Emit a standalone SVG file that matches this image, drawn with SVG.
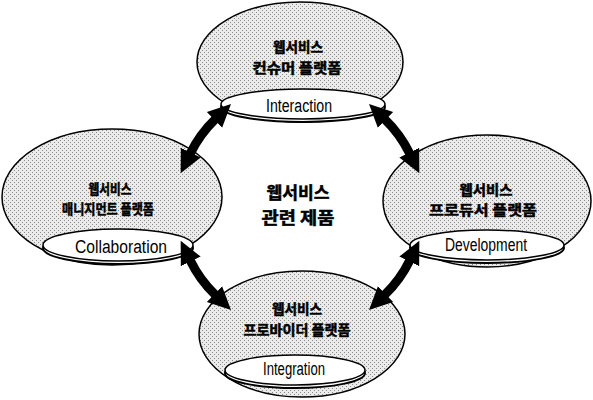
<svg xmlns="http://www.w3.org/2000/svg" width="593" height="400" viewBox="0 0 593 400">
<defs>
<pattern id="dots" width="4" height="4" patternUnits="userSpaceOnUse">
<rect width="4" height="4" fill="#ebebeb"/>
<rect x="0" y="0" width="1" height="1" fill="#8a8a8a"/>
<rect x="2" y="2" width="1" height="1" fill="#8a8a8a"/>
</pattern>
<marker id="head" viewBox="0 0 24 24" markerUnits="userSpaceOnUse" markerWidth="24" markerHeight="24" refX="1" refY="12" orient="auto-start-reverse">
<path d="M0,1 L23,12 L0,23 z" fill="#000"/>
</marker>
<style>
.outer{fill:url(#dots);stroke:#000;stroke-width:1.5}
.inner{fill:#fff;stroke:#000;stroke-width:1.5}
.rim{fill:#fff;stroke:#000;stroke-width:2}
.ko{font-family:"Noto Sans CJK KR","Noto Sans",sans-serif;font-weight:bold;font-size:14px;text-anchor:middle;fill:#000;stroke:#000;stroke-width:0.5}
.big{font-size:17px}
.en{font-family:"Liberation Sans",Arial,sans-serif;font-size:18px;text-anchor:middle;fill:#000}
.shaft{fill:none;stroke:#000;stroke-width:9}
.edge{fill:none;stroke:#000;stroke-width:1.2}
</style>
</defs>
<rect width="593" height="400" fill="#fff"/>

<g id="node-consumer">
<ellipse class="outer" cx="300" cy="62" rx="103" ry="60"/>
<ellipse class="rim" cx="303" cy="107" rx="82" ry="15"/>
<ellipse class="inner" cx="303" cy="104" rx="82" ry="15"/>
<text class="ko" x="298" y="52" textLength="50" lengthAdjust="spacingAndGlyphs">웹서비스</text>
<text class="ko" x="297" y="73" textLength="89" lengthAdjust="spacingAndGlyphs">컨슈머 플랫폼</text>
<text class="en" x="299" y="112" textLength="66" lengthAdjust="spacingAndGlyphs">Interaction</text>
</g>

<g id="node-management">
<ellipse class="outer" cx="112" cy="197" rx="110" ry="68"/>
<ellipse class="rim" cx="118" cy="248" rx="75" ry="16"/>
<ellipse class="inner" cx="118" cy="245" rx="75" ry="16"/>
<text class="ko" x="110" y="194" textLength="43" lengthAdjust="spacingAndGlyphs">웹서비스</text>
<text class="ko" x="108" y="214" textLength="92" lengthAdjust="spacingAndGlyphs">매니지먼트 플랫폼</text>
<text class="en" x="121" y="253" textLength="92" lengthAdjust="spacingAndGlyphs">Collaboration</text>
</g>

<g id="node-producer">
<ellipse class="outer" cx="487" cy="201" rx="104" ry="66"/>
<ellipse class="rim" cx="487" cy="248" rx="77" ry="15"/>
<ellipse class="inner" cx="487" cy="245" rx="77" ry="15"/>
<text class="ko" x="486" y="195" textLength="53" lengthAdjust="spacingAndGlyphs">웹서비스</text>
<text class="ko" x="483" y="215" textLength="108" lengthAdjust="spacingAndGlyphs">프로듀서 플랫폼</text>
<text class="en" x="486" y="251" textLength="82" lengthAdjust="spacingAndGlyphs">Development</text>
</g>

<g id="node-provider">
<ellipse class="outer" cx="302" cy="334" rx="103" ry="63"/>
<ellipse class="rim" cx="295" cy="373" rx="70" ry="15"/>
<ellipse class="inner" cx="295" cy="370" rx="70" ry="15"/>
<text class="ko" x="297" y="314" textLength="50" lengthAdjust="spacingAndGlyphs">웹서비스</text>
<text class="ko" x="297" y="335" textLength="107" lengthAdjust="spacingAndGlyphs">프로바이더 플랫폼</text>
<text class="en" x="294" y="375" textLength="62" lengthAdjust="spacingAndGlyphs">Integration</text>
</g>

<g id="center-label">
<text class="ko big" x="298" y="199" textLength="63" lengthAdjust="spacingAndGlyphs">웹서비스</text>
<text class="ko big" x="298" y="224" textLength="73" lengthAdjust="spacingAndGlyphs">관련 제품</text>
</g>

<g id="connectors">
<path class="edge" d="M188.6,162.0 A130,130 0 0 1 208.0,128.0"/>
<path class="shaft" marker-start="url(#head)" marker-end="url(#head)" d="M190.3,153.5 A122,122 0 0 1 215.2,119.2"/>
<path class="edge" d="M392.0,128.0 A130,130 0 0 1 411.4,162.0"/>
<path class="shaft" marker-start="url(#head)" marker-end="url(#head)" d="M384.8,119.2 A122,122 0 0 1 409.7,153.5"/>
<path class="edge" d="M188.6,252.0 A130,130 0 0 0 208.0,286.0"/>
<path class="shaft" marker-start="url(#head)" marker-end="url(#head)" d="M190.3,260.5 A122,122 0 0 0 215.2,294.8"/>
<path class="edge" d="M411.4,252.0 A130,130 0 0 1 392.0,286.0"/>
<path class="shaft" marker-start="url(#head)" marker-end="url(#head)" d="M409.7,260.5 A122,122 0 0 1 384.8,294.8"/>
</g>
</svg>
